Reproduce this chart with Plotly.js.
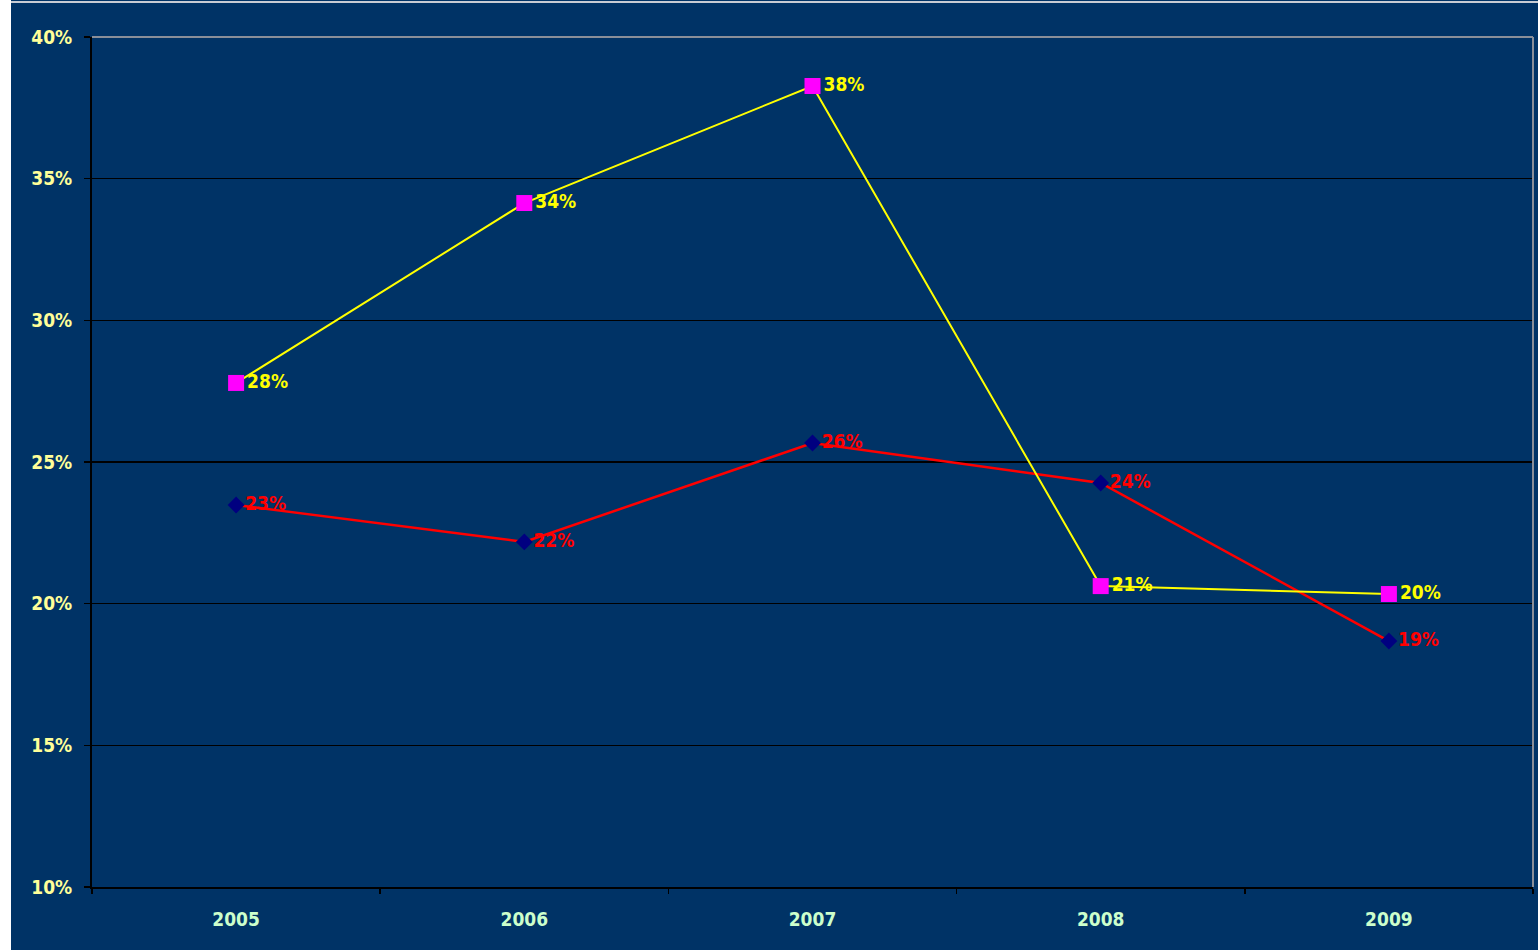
<!DOCTYPE html>
<html>
<head>
<meta charset="utf-8">
<script src="https://cdn.plot.ly/plotly-3.0.1.min.js"></script>
<style>
html,body{margin:0;padding:0;background:#ffffff;overflow:hidden;}
#wrap{position:absolute;left:11px;top:0;width:1527px;height:950px;background:#003366;}
#topline{position:absolute;left:11px;top:1px;width:1527px;height:2px;background:#c8ccd4;}
#chart{position:absolute;left:0;top:3px;width:1527px;height:947px;}
</style>
</head>
<body>
<div id="wrap"><div id="chart"></div></div>
<div id="topline"></div>
<script>
const years = ['2005','2006','2007','2008','2009'];
const yellowSeries = [0.2779, 0.3414, 0.3827, 0.2062, 0.2034];
const redSeries = [0.2348, 0.2218, 0.2567, 0.2426, 0.1868];
const yTicks = [0.10, 0.15, 0.20, 0.25, 0.30, 0.35, 0.40];
const yTickText = ['10%','15%','20%','25%','30%','35%','40%'];

const fontFam = '"DejaVu Sans Condensed", "DejaVu Sans", sans-serif';
function pct(a){ return a.map(v => Math.round(v*100) + '%'); }

const traces = [
  {
    x: years, y: redSeries, type: 'scatter', mode: 'lines+markers+text',
    line: {color: '#ff0000', width: 2.5},
    marker: {symbol: 'diamond', size: 13, color: '#000080'},
    text: pct(redSeries), textposition: 'middle right',
    textfont: {color: '#ff0000', size: 19, family: fontFam, weight: 'bold'},
    cliponaxis: false, hoverinfo: 'skip'
  },
  {
    x: years, y: yellowSeries, type: 'scatter', mode: 'lines+markers+text',
    line: {color: '#ffff00', width: 2},
    marker: {symbol: 'square', size: 16, color: '#ff00ff'},
    text: pct(yellowSeries), textposition: 'middle right',
    textfont: {color: '#ffff00', size: 19, family: fontFam, weight: 'bold'},
    cliponaxis: false, hoverinfo: 'skip'
  }
];

const layout = {
  width: 1527, height: 947,
  paper_bgcolor: '#003366', plot_bgcolor: '#003366',
  margin: {l: 81, r: 5, t: 34, b: 63},
  showlegend: false,
  font: {family: fontFam},
  xaxis: {
    type: 'category', range: [-0.5, 4.5],
    tickson: 'boundaries', ticks: 'outside', ticklen: 5, tickcolor: '#000000', tickwidth: 1.5,
    ticklabelstandoff: 14,
    showline: true, linecolor: '#000000', linewidth: 2,
    showgrid: false, zeroline: false,
    tickfont: {color: '#ccffcc', size: 19, family: fontFam, weight: 'bold'}
  },
  yaxis: {
    range: [0.10, 0.40], tickvals: yTicks, ticktext: yTickText,
    ticks: 'outside', ticklen: 6, tickcolor: '#000000', tickwidth: 1.5,
    ticklabelstandoff: 8,
    showline: true, linecolor: '#000000', linewidth: 2,
    showgrid: true, gridcolor: '#000000', gridwidth: 1.5, zeroline: false,
    tickfont: {color: '#ffff99', size: 19, family: fontFam, weight: 'bold'}
  },
  shapes: [
    {type: 'line', xref: 'paper', yref: 'paper', x0: 0, x1: 1, y0: 1, y1: 1, line: {color: '#8a8f99', width: 2}},
    {type: 'line', xref: 'paper', yref: 'paper', x0: 1, x1: 1, y0: 0, y1: 1, line: {color: '#8a8f99', width: 2}}
  ]
};

Plotly.newPlot('chart', traces, layout, {displayModeBar: false, staticPlot: true});
</script>
</body>
</html>
